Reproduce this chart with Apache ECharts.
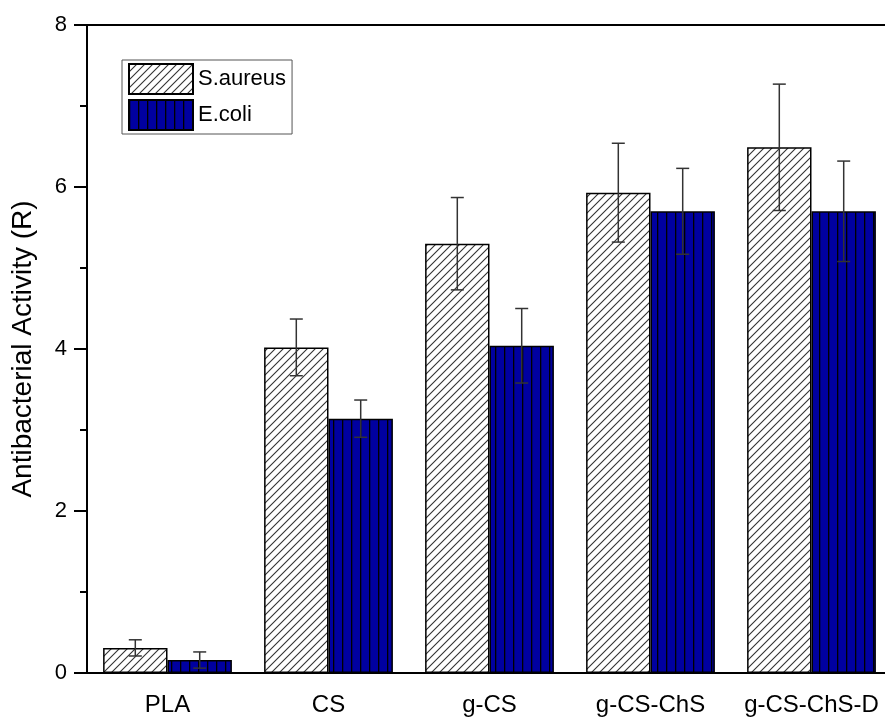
<!DOCTYPE html>
<html>
<head>
<meta charset="utf-8">
<script src="https://cdn.jsdelivr.net/npm/echarts@6/dist/echarts.min.js"></script>
<style>
html,body{margin:0;padding:0;background:#fff;}
#chart{width:885px;height:718px;}
</style>
</head>
<body>
<div id="chart"></div>
<script>
const categories = ['PLA', 'CS', 'g-CS', 'g-CS-ChS', 'g-CS-ChS-D'];
const seriesNames = ['S.aureus', 'E.coli'];
const saureus = [0.31, 4.02, 5.30, 5.93, 6.49];
const saureusErr = [0.10, 0.35, 0.57, 0.61, 0.78];
const ecoli = [0.16, 3.14, 4.04, 5.70, 5.70];
const ecoliErr = [0.10, 0.23, 0.46, 0.53, 0.62];
const yTicks = [0, 2, 4, 6, 8];

function hatchPattern() {
  const c = document.createElement('canvas');
  c.width = 8; c.height = 8;
  const ctx = c.getContext('2d');
  ctx.fillStyle = '#ffffff';
  ctx.fillRect(0, 0, 8, 8);
  ctx.strokeStyle = '#333333';
  ctx.lineWidth = 1.1;
  ctx.beginPath();
  ctx.moveTo(-1, 9); ctx.lineTo(9, -1);
  ctx.moveTo(-5, 5); ctx.lineTo(5, -5);
  ctx.moveTo(3, 13); ctx.lineTo(13, 3);
  ctx.stroke();
  return c;
}
function stripePattern() {
  const c = document.createElement('canvas');
  c.width = 9; c.height = 9;
  const ctx = c.getContext('2d');
  ctx.fillStyle = '#0000A0';
  ctx.fillRect(0, 0, 9, 9);
  ctx.fillStyle = '#000000';
  ctx.fillRect(0, 0, 1.3, 9);
  return c;
}

const font = "'Liberation Sans', Arial, sans-serif";

function errData(vals, errs) {
  return vals.map((v, i) => [i, v - errs[i], v + errs[i]]);
}
function errRender(sign) {
  return function (params, api) {
    const idx = api.value(0);
    const band = api.size([1, 0])[0];
    const off = sign * band * 0.8 / 4;
    const lo = api.coord([idx, api.value(1)]);
    const hi = api.coord([idx, api.value(2)]);
    const x = lo[0] + off;
    const cap = 6.5;
    const style = { stroke: '#333', lineWidth: 1.5, fill: null };
    return {
      type: 'group',
      children: [
        { type: 'line', shape: { x1: x, y1: lo[1], x2: x, y2: hi[1] }, style: style },
        { type: 'line', shape: { x1: x - cap, y1: hi[1], x2: x + cap, y2: hi[1] }, style: style },
        { type: 'line', shape: { x1: x - cap, y1: lo[1], x2: x + cap, y2: lo[1] }, style: style }
      ]
    };
  };
}

const chart = echarts.init(document.getElementById('chart'));
chart.setOption({
  animation: false,
  backgroundColor: '#fff',
  textStyle: { fontFamily: font },
  grid: {
    left: 87, top: 25, width: 805, height: 648,
    outerBoundsMode: 'none', containLabel: false
  },
  legend: {
    left: 122, top: 60, orient: 'vertical',
    itemWidth: 64, itemHeight: 30, itemGap: 4,
    padding: [3, 6, 3, 6],
    borderColor: '#555', borderWidth: 1,
    icon: 'rect',
    data: seriesNames,
    textStyle: { fontSize: 22, color: '#000', fontFamily: font }
  },
  xAxis: [
    {
      type: 'category', data: categories, position: 'bottom',
      axisLine: { lineStyle: { color: '#000', width: 2 } },
      axisTick: { alignWithLabel: true, length: 13, lineStyle: { color: '#000', width: 2 } },
      axisLabel: { fontSize: 24, color: '#000', margin: 20, fontFamily: font, interval: 0 },
      splitLine: { show: false }
    },
    {
      type: 'category', data: categories, position: 'bottom',
      axisLine: { show: false },
      axisTick: { alignWithLabel: false, length: 7, lineStyle: { color: '#000', width: 2 } },
      axisLabel: { show: false },
      splitLine: { show: false }
    },
    {
      type: 'category', data: categories, position: 'top',
      axisLine: { show: true, lineStyle: { color: '#000', width: 2 } },
      axisTick: { show: false },
      axisLabel: { show: false },
      splitLine: { show: false }
    }
  ],
  yAxis: {
    type: 'value', min: yTicks[0], max: yTicks[yTicks.length - 1], interval: 2,
    name: 'Antibacterial Activity (R)', nameLocation: 'middle', nameGap: 50,
    nameTextStyle: { fontSize: 28, color: '#000', fontFamily: font },
    axisLine: { show: true, lineStyle: { color: '#000', width: 2 } },
    axisTick: { show: true, length: 13, lineStyle: { color: '#000', width: 2 } },
    minorTick: { show: true, splitNumber: 2, length: 7, lineStyle: { color: '#000', width: 2 } },
    axisLabel: { fontSize: 22, color: '#000', margin: 20, fontFamily: font },
    splitLine: { show: false },
    minorSplitLine: { show: false }
  },
  series: [
    {
      name: seriesNames[0], type: 'bar', data: saureus, xAxisIndex: 0,
      barGap: '0%', barCategoryGap: '20%',
      itemStyle: { color: { image: hatchPattern(), repeat: 'repeat' }, borderColor: '#000', borderWidth: 1.5 }
    },
    {
      name: seriesNames[1], type: 'bar', data: ecoli, xAxisIndex: 0,
      barGap: '0%', barCategoryGap: '20%',
      itemStyle: { color: { image: stripePattern(), repeat: 'repeat' }, borderColor: '#000', borderWidth: 1.5 }
    },
    {
      type: 'custom', xAxisIndex: 0, data: errData(saureus, saureusErr),
      renderItem: errRender(-1), z: 10, silent: true
    },
    {
      type: 'custom', xAxisIndex: 0, data: errData(ecoli, ecoliErr),
      renderItem: errRender(1), z: 10, silent: true
    }
  ]
});
</script>
</body>
</html>
